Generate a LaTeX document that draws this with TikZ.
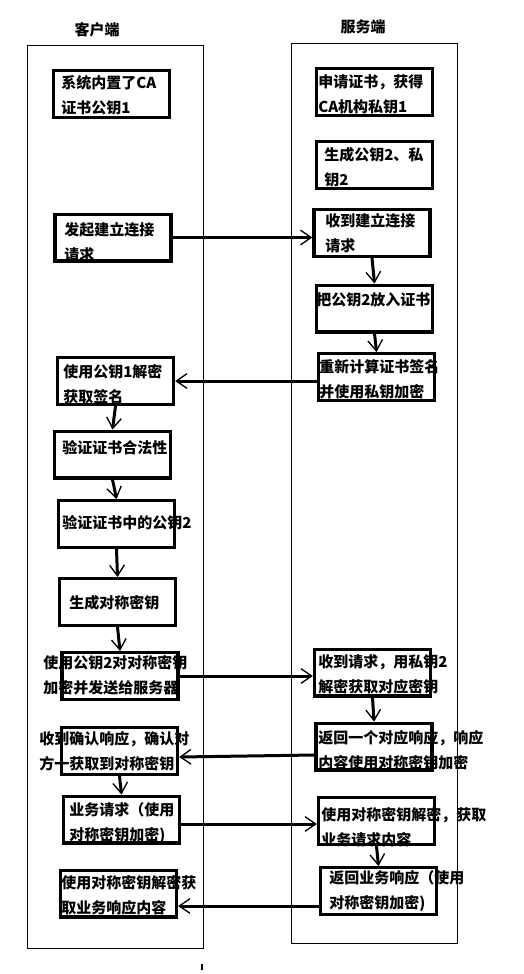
\documentclass[tikz,border=0pt]{standalone}
\usepackage{fontspec}
\setmainfont{Noto Sans CJK SC}
\usetikzlibrary{arrows.meta,calc}

\begin{document}
\begin{tikzpicture}[x=0.75pt, y=-0.75pt,
    every node/.style={font=\fontsize{11.25pt}{18.75pt}\selectfont\bfseries},
    box/.style={draw, line width=2.5pt, minimum width=87pt, minimum height=35pt, inner sep=0pt},
    txt/.style={anchor=west, align=left, inner sep=0pt},
    link/.style={line width=2.25pt, -{Straight Barb[length=8pt, width=11pt, line width=1pt]}},
    frame/.style={line width=0.75pt}]
    \useasboundingbox (0,0) rectangle (524,974);

    % Columns
    \node (client) at (97,30) {客户端};
    \node (server) at (363,27) {服务端};
    \draw[frame] (27,46) rectangle (203,948);
    \draw[frame] (291,44) rectangle (457,943);
    \fill (201,964) rectangle (203,970);

    % Client steps
    \node[box] (l1) at (111.5,94) {};
    \node[box] (l2) at (113,237.5) {};
    \node[box] (l3) at (115.5,381) {};
    \node[box] (l4) at (112.5,454.5) {};
    \node[box] (l5) at (116.5,524) {};
    \node[box] (l6) at (117.5,602) {};
    \node[box] (l7) at (120,676) {};
    \node[box] (l8) at (119.5,751) {};
    \node[box] (l9) at (121.5,819.5) {};
    \node[box] (l10) at (118.5,893.5) {};

    \node[txt] (tl1) at (61,95) {系统内置了CA\\证书公钥1};
    \node[txt] (tl2) at (64,242) {发起建立连接\\请求};
    \node[txt] (tl3) at (63,384.5) {使用公钥1解密\\获取签名};
    \node[txt] (tl4) at (62,448) {验证证书合法性};
    \node[txt] (tl5) at (62,523) {验证证书中的公钥2};
    \node[txt] (tl6) at (69,603) {生成对称密钥};
    \node[txt] (tl7) at (43,675) {使用公钥2对对称密钥\\加密并发送给服务器};
    \node[txt] (tl8) at (39,751.5) {收到确认响应，确认对\\方一获取到对称密钥};
    \node[txt] (tl9) at (69,823.5) {业务请求（使用\\对称密钥加密)};
    \node[txt] (tl10) at (61,895.5) {使用对称密钥解密获\\取业务响应内容};

    % Server steps
    \node[box] (r1) at (374.5,92) {};
    \node[box] (r2) at (374.5,165) {};
    \node[box] (r3) at (372,233) {};
    \node[box] (r4) at (374.5,308.5) {};
    \node[box] (r5) at (376.5,377) {};
    \node[box] (r6) at (372.5,672.5) {};
    \node[box] (r7) at (374,746.5) {};
    \node[box] (r8) at (376.5,821) {};
    \node[box] (r9) at (378.5,891) {};

    \node[txt] (tr1) at (318,94) {申请证书，获得\\CA机构私钥1};
    \node[txt] (tr2) at (324,167.5) {生成公钥2、私\\钥2};
    \node[txt] (tr3) at (325,233.5) {收到建立连接\\请求};
    \node[txt] (tr4) at (316,300) {把公钥2放入证书};
    \node[txt] (tr5) at (319,379) {重新计算证书签名\\并使用私钥加密};
    \node[txt] (tr6) at (318,674) {收到请求，用私钥2\\解密获取对应密钥};
    \node[txt] (tr7) at (318,750.5) {返回一个对应响应，响应\\内容使用对称密钥加密};
    \node[txt] (tr8) at (321,827.5) {使用对称密钥解密，获取\\业务请求内容};
    \node[txt] (tr9) at (329,891.5) {返回业务响应（使用\\对称密钥加密)};

    % Down the columns
    \draw[link] (l3.south) -- (l4.north);
    \draw[link] (l4.south) -- (l5.north);
    \draw[link] (l5.south) -- (l6.north);
    \draw[link] (l6.south) -- (l7.north);
    \draw[link] (l8.south) -- (l9.north);
    \draw[link] (r3.south) -- (r4.north);
    \draw[link] (r4.south) -- (r5.north);
    \draw[link] (r6.south) -- (r7.north);
    \draw[link] (r8.south) -- (r9.north);

    % Across
    \draw[link] (l2.east) -- (l2.east -| r3.west);
    \draw[link] (r5.west |- l3.east) -- (l3.east);
    \draw[link] (l7.east) -- (l7.east -| r6.west);
    \draw[link] ($(r7.west)+(0,8.5)$) -- ($(l8.east)+(0,6)$);
    \draw[link] ($(l9.east)+(0,4.5)$) -- ($(r8.west)+(0,3)$);
    \draw[link] ($(r9.west)+(0,15)$) -- ($(l10.east)+(0,12.5)$);
\end{tikzpicture}
\end{document}
